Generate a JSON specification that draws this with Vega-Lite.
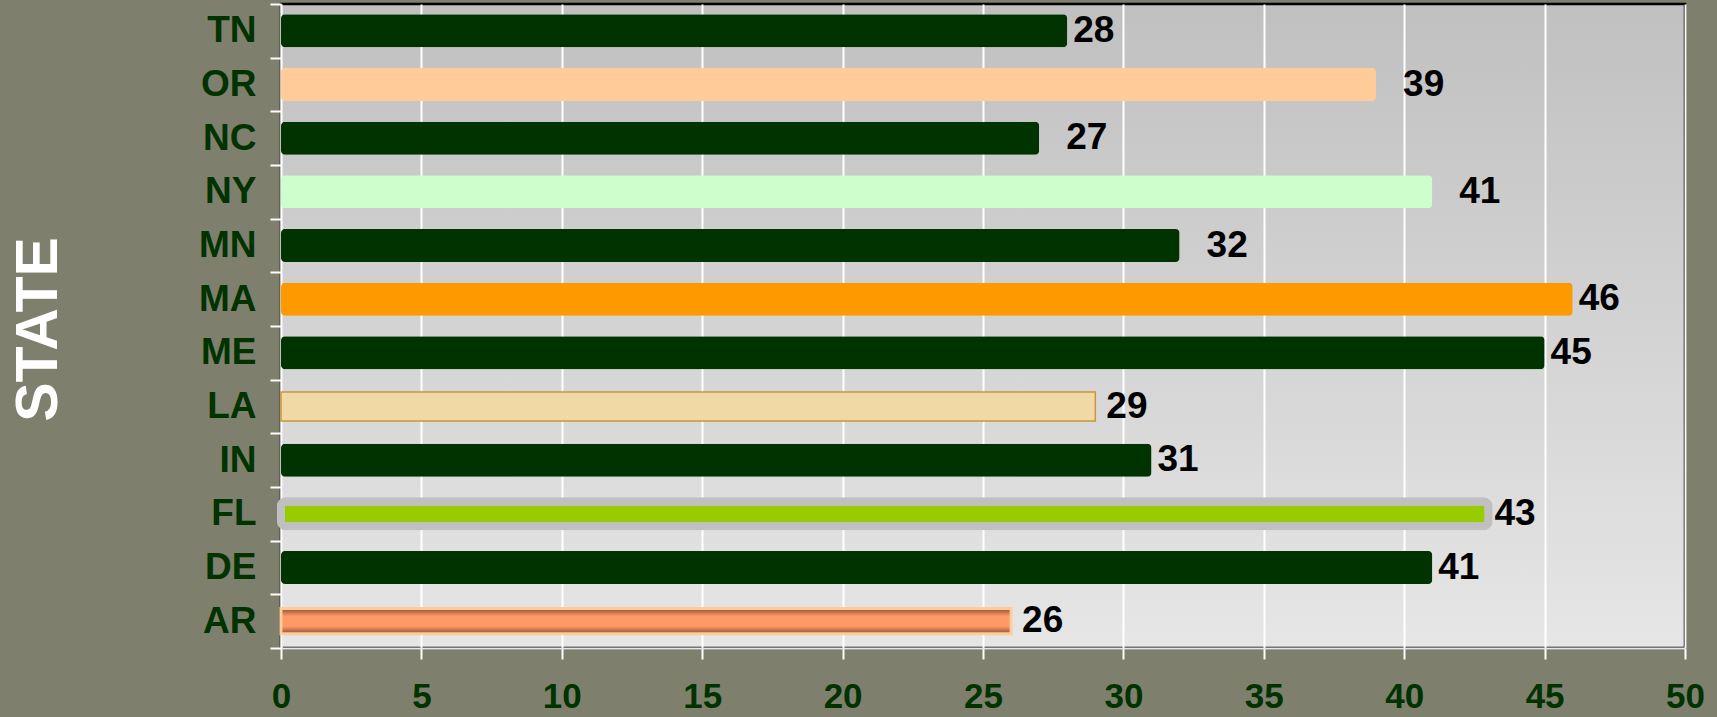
{
  "$schema": "https://vega.github.io/schema/vega-lite/v6.json",
  "width": 1404,
  "height": 644,
  "autosize": {"type": "none"},
  "padding": {"left": 281, "top": 4, "right": 32, "bottom": 69},
  "background": "#7f7f6e",
  "config": {
    "view": {
      "fill": {"gradient": "linear", "x1": 0, "y1": 0, "x2": 0, "y2": 1, "stops": [{"offset": 0, "color": "#c0c0c0"}, {"offset": 1, "color": "#e6e6e6"}]},
      "stroke": "#000000",
      "strokeWidth": 2.5
    }
  },
  "data": {
    "values": [
      {"state": "TN", "value": 28},
      {"state": "OR", "value": 39},
      {"state": "NC", "value": 27},
      {"state": "NY", "value": 41},
      {"state": "MN", "value": 32},
      {"state": "MA", "value": 46},
      {"state": "ME", "value": 45},
      {"state": "LA", "value": 29},
      {"state": "IN", "value": 31},
      {"state": "FL", "value": 43},
      {"state": "DE", "value": 41},
      {"state": "AR", "value": 26}
    ]
  },
  "encoding": {
    "y": {
      "field": "state",
      "type": "nominal",
      "sort": null,
      "scale": {"domain": ["TN", "OR", "NC", "NY", "MN", "MA", "ME", "LA", "IN", "FL", "DE", "AR"], "paddingInner": 0, "paddingOuter": 0},
      "axis": {
        "title": "STATE",
        "titleFont": "Liberation Sans",
        "titleFontSize": 59,
        "titleFontWeight": "bold",
        "titleColor": "#ffffff",
        "titleAngle": -90,
        "titleAlign": "center",
        "titleBaseline": "alphabetic",
        "titleX": -225,
        "titleY": 325,
        "labelFont": "Liberation Sans",
        "labelFontSize": 37,
        "labelFontWeight": "bold",
        "labelColor": "#003300",
        "labelPadding": 14,
        "tickBand": "extent",
        "tickColor": "#ffffff",
        "tickSize": 11,
        "tickWidth": 2,
        "domainColor": "#ffffff",
        "domainWidth": 2,
        "grid": false
      }
    },
    "x": {
      "field": "value",
      "type": "quantitative",
      "scale": {"domain": [0, 50], "nice": false},
      "axis": {
        "title": null,
        "values": [0, 5, 10, 15, 20, 25, 30, 35, 40, 45, 50],
        "labelFont": "Liberation Sans",
        "labelFontSize": 35,
        "labelFontWeight": "bold",
        "labelColor": "#003300",
        "labelPadding": 20,
        "labelFlush": false,
        "tickColor": "#ffffff",
        "tickSize": 11,
        "tickWidth": 2,
        "domainColor": "#e8e8e8",
        "domainWidth": 2,
        "grid": true,
        "gridColor": "#ffffff",
        "gridWidth": 2,
        "gridOpacity": 1
      }
    }
  },
  "layer": [
    {
      "transform": [{"filter": "datum.state !== 'AR' && datum.state !== 'LA'"}],
      "mark": {"type": "bar", "height": {"band": 0.615}, "cornerRadius": 4, "strokeWidth": 1},
      "encoding": {
        "color": {
          "field": "state",
          "type": "nominal",
          "legend": null,
          "scale": {
            "domain": ["TN", "OR", "NC", "NY", "MN", "MA", "ME", "IN", "FL", "DE"],
            "range": ["#003300", "#ffcc99", "#003300", "#ccffcc", "#003300", "#ff9900", "#003300", "#003300", "#c0c0c0", "#003300"]
          }
        }
      }
    },
    {
      "transform": [{"filter": "datum.state === 'FL'"}],
      "mark": {"type": "bar", "height": {"band": 0.45}, "cornerRadius": 4, "fill": "#99cc00", "stroke": "#c0c0c0", "strokeWidth": 8}
    },
    {
      "transform": [{"filter": "datum.state === 'LA'"}],
      "mark": {"type": "bar", "height": {"band": 0.54}, "fill": "#f1d9a6", "stroke": "#c8963c", "strokeWidth": 1.5}
    },
    {
      "transform": [{"filter": "datum.state === 'AR'"}],
      "mark": {
        "type": "bar",
        "height": {"band": 0.47},
        "fill": {"gradient": "linear", "x1": 0, "y1": 0, "x2": 0, "y2": 1, "stops": [
          {"offset": 0, "color": "#8f4f34"},
          {"offset": 0.3, "color": "#ff9966"},
          {"offset": 0.7, "color": "#ff9966"},
          {"offset": 1, "color": "#8f4f34"}
        ]},
        "stroke": "#ffcc99",
        "strokeWidth": 3
      }
    },
    {
      "transform": [{"filter": "indexof(['TN','MA','ME','IN','FL','DE'], datum.state) >= 0"}],
      "mark": {"type": "text", "align": "left", "baseline": "middle", "dx": 6, "font": "Liberation Sans", "fontSize": 37, "fontWeight": "bold", "color": "#000000"},
      "encoding": {"text": {"field": "value", "type": "quantitative"}}
    },
    {
      "transform": [{"filter": "indexof(['LA','AR'], datum.state) >= 0"}],
      "mark": {"type": "text", "align": "left", "baseline": "middle", "dx": 11, "font": "Liberation Sans", "fontSize": 37, "fontWeight": "bold", "color": "#000000"},
      "encoding": {"text": {"field": "value", "type": "quantitative"}}
    },
    {
      "transform": [{"filter": "indexof(['OR','NC','NY','MN'], datum.state) >= 0"}],
      "mark": {"type": "text", "align": "left", "baseline": "middle", "dx": 27, "font": "Liberation Sans", "fontSize": 37, "fontWeight": "bold", "color": "#000000"},
      "encoding": {"text": {"field": "value", "type": "quantitative"}}
    }
  ]
}
